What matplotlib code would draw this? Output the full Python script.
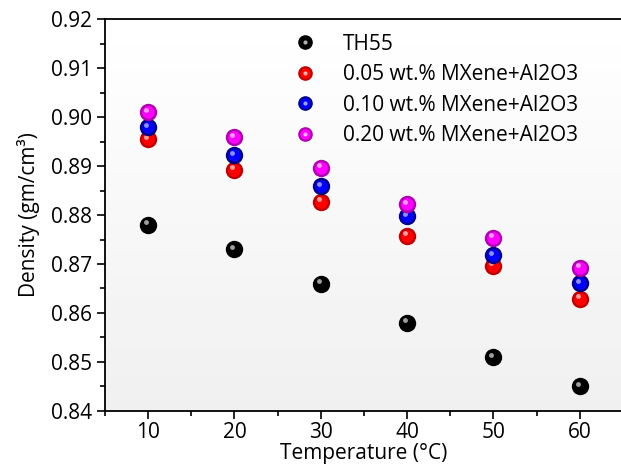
import matplotlib
matplotlib.use("Agg")
import matplotlib.pyplot as plt
import matplotlib.transforms as mtransforms
from matplotlib.lines import Line2D
from matplotlib.legend_handler import HandlerTuple
from matplotlib.ticker import MultipleLocator
import numpy as np

plt.rcParams['font.family'] = ['Open Sans', 'DejaVu Sans']

temps = [10, 20, 30, 40, 50, 60]
th55 = [0.878, 0.873, 0.866, 0.858, 0.851, 0.845]
mx005 = [0.8955, 0.8892, 0.8827, 0.8758, 0.8696, 0.8629]
mx010 = [0.8979, 0.8922, 0.8859, 0.8798, 0.8718, 0.8661]
mx020 = [0.9010, 0.8959, 0.8897, 0.8822, 0.8754, 0.8692]

labels = ["TH55", "0.05 wt.% MXene+Al2O3", "0.10 wt.% MXene+Al2O3", "0.20 wt.% MXene+Al2O3"]
colors = ["#000000", "#ff0000", "#0000ff", "#ff00ff"]
edges = ["#000000", "#c00000", "#00008a", "#b000b0"]
highlights = ["#b0b0b0", "#ffb0b0", "#a0a0ff", "#ffb0ff"]

fig = plt.figure(figsize=(6.21, 4.68), dpi=100)
ax = fig.add_axes([0.169, 0.122, 0.834, 0.837])

# light gradient background of the plot area
grad = np.linspace(0.94, 1.0, 100).reshape(-1, 1)
ax.imshow(grad, extent=[0, 1, 0, 1], transform=ax.transAxes, cmap="gray",
          vmin=0, vmax=1, aspect="auto", origin="lower", zorder=0)

hl_offset = mtransforms.offset_copy(ax.transData, fig=fig, x=-2.0, y=2.5, units="dots")

series = [th55, mx005, mx010, mx020]
handles = []
for i, ys in enumerate(series):
    z = 3 + i
    ax.plot(temps, ys, "o", ms=11.5, mfc=edges[i], mec=edges[i], zorder=z)
    ax.plot(temps, ys, "o", ms=9, mfc=colors[i], mec="none", zorder=z)
    ax.plot(temps, ys, "o", ms=3.5, mfc=highlights[i], mec="none", alpha=0.9,
            transform=hl_offset, zorder=z)
    h1 = Line2D([], [], ls="none", marker="o", ms=9.5, mfc=edges[i], mec=edges[i])
    h2 = Line2D([], [], ls="none", marker="o", ms=7.5, mfc=colors[i], mec="none")
    h3 = Line2D([], [], ls="none", marker="o", ms=3, mfc=highlights[i], mec="none")
    handles.append((h1, h2, h3))

ax.set_xlim(5, 65)
ax.set_ylim(0.84, 0.92)
ax.xaxis.set_major_locator(MultipleLocator(10))
ax.xaxis.set_minor_locator(MultipleLocator(5))
ax.yaxis.set_major_locator(MultipleLocator(0.01))
ax.yaxis.set_minor_locator(MultipleLocator(0.005))
ax.yaxis.set_major_formatter(plt.FormatStrFormatter("%.2f"))
ax.tick_params(which="both", direction="out", top=False, right=False, labelsize=15)
ax.tick_params(which="major", length=6, width=1.2)
ax.tick_params(axis="x", which="major", pad=2)
ax.tick_params(which="minor", length=3.5, width=1.2)
for s in ax.spines.values():
    s.set_linewidth(1.3)
ax.spines["right"].set_visible(False)

ax.set_xlabel("Temperature (°C)", fontsize=15, labelpad=0)
ax.set_ylabel("Density (gm/cm³)", fontsize=15, labelpad=8)

ax.legend(handles, labels, handler_map={tuple: HandlerTuple(ndivide=1)},
          loc="upper left", bbox_to_anchor=(0.318, 1.0), frameon=False, fontsize=15,
          handletextpad=0.8, labelspacing=0.45, borderaxespad=0.3)

fig.savefig("out.png", dpi=100)
